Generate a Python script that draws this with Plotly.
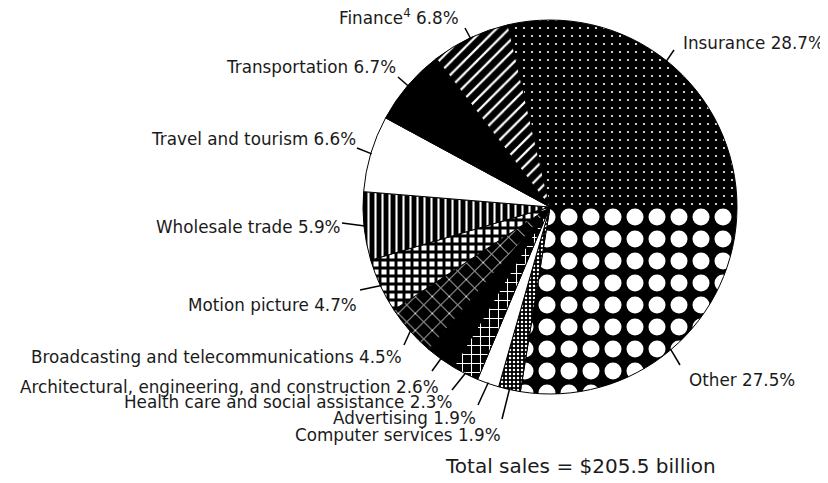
import math
import plotly.graph_objects as go

# ---------------- data ----------------
sectors = ["Insurance", "Other", "Computer services", "Advertising",
           "Health care and social assistance",
           "Architectural, engineering, and construction",
           "Broadcasting and telecommunications", "Motion picture",
           "Wholesale trade", "Travel and tourism", "Transportation", "Finance"]
shares = [28.7, 27.5, 1.9, 1.9, 2.3, 2.6, 4.5, 4.7, 5.9, 6.6, 6.7, 6.8]
footnotes = {"Finance": "4"}
total_text = "Total sales = $205.5 billion"

# ---------------- layout / style ----------------
OFF = 8                      # default body margin of the html page
FW, FH = 820, 467            # figure size so page fits the 828x483 window
CX, CY, R = 550, 207, 187    # pie centre / radius in window pixels
ROTATION = -13               # first slice start angle (deg, clockwise from 12 o'clock)
FONT = "DejaVu Sans"
FS = 16.8
TXT = "#1a1a1a"

# pattern per slice: (shape, fg, bg, size, solidity)
styles = {
    "Insurance": (".", "white", "black", 8, 0.06),
    "Other": (".", "white", "black", 22, 0.47),
    "Computer services": (".", "white", "black", 4, 0.3),
    "Advertising": ("", "black", "white", 8, 0.3),
    "Health care and social assistance": ("+", "white", "black", 9, 0.22),
    "Architectural, engineering, and construction": ("", "white", "black", 8, 0.3),
    "Broadcasting and telecommunications": ("x", "white", "black", 12, 0.14),
    "Motion picture": ("+", "black", "white", 8, 0.6),
    "Wholesale trade": ("|", "white", "black", 7, 0.3),
    "Travel and tourism": ("", "black", "white", 8, 0.3),
    "Transportation": ("", "white", "black", 8, 0.3),
    "Finance": ("/", "white", "black", 9, 0.25),
}

# label placement (window pixels): text x, text y, anchor, leader-line start x, y
placement = {
    "Insurance": (681, 43, "left", 674, 50),
    "Other": (687, 380, "left", 680, 365),
    "Computer services": (503, 435, "right", 502, 419),
    "Advertising": (478, 418, "right", 478, 405),
    "Health care and social assistance": (454, 402, "right", 452, 390),
    "Architectural, engineering, and construction": (441, 387, "right", 432, 371),
    "Broadcasting and telecommunications": (404, 357, "right", 404, 345),
    "Motion picture": (359, 305, "right", 360, 290),
    "Wholesale trade": (343, 227, "right", 342, 223),
    "Travel and tourism": (358, 139, "right", 357, 148),
    "Transportation": (398, 67, "right", 398, 77),
    "Finance": (461, 17, "right", 465, 28),
}


def px(x):
    return (x - OFF) / FW


def py(y):
    return 1 - (y - OFF) / FH


fig = go.Figure()
fig.add_trace(go.Pie(
    labels=sectors,
    values=shares,
    sort=False,
    direction="clockwise",
    rotation=ROTATION,
    textinfo="none",
    hoverinfo="label+percent",
    showlegend=False,
    domain=dict(x=[px(CX - R), px(CX + R)], y=[py(CY + R), py(CY - R)]),
    marker=dict(
        colors=[styles[s][2] for s in sectors],
        line=dict(color="black", width=1),
        pattern=dict(
            shape=[styles[s][0] for s in sectors],
            fgcolor=[styles[s][1] for s in sectors],
            bgcolor=[styles[s][2] for s in sectors],
            size=[styles[s][3] for s in sectors],
            solidity=[styles[s][4] for s in sectors],
            fillmode="replace",
        ),
    ),
))

annotations = []
shapes = []
total = sum(shares)
cum = 0.0
for name, v in zip(sectors, shares):
    mid = math.radians(ROTATION + 360 * (cum + v / 2) / total)
    cum += v
    ex = CX + (R - 1) * math.sin(mid)
    ey = CY - (R - 1) * math.cos(mid)
    tx, ty, anchor, sx, sy = placement[name]
    label = name
    if name in footnotes:
        label += "<sup>" + footnotes[name] + "</sup>"
    label += f" {v}%"
    annotations.append(dict(
        x=px(tx), y=py(ty), xref="paper", yref="paper",
        text=label, showarrow=False, xanchor=anchor, yanchor="middle",
        font=dict(family=FONT, size=FS, color=TXT),
    ))
    shapes.append(dict(
        type="line", xref="paper", yref="paper",
        x0=px(sx), y0=py(sy), x1=px(ex), y1=py(ey),
        line=dict(color="black", width=1.5),
    ))

annotations.append(dict(
    x=px(718), y=py(466), xref="paper", yref="paper",
    text=total_text, showarrow=False, xanchor="right", yanchor="middle",
    font=dict(family=FONT, size=20, color=TXT),
))

fig.update_layout(
    width=FW, height=FH, autosize=False,
    margin=dict(l=0, r=0, t=0, b=0),
    paper_bgcolor="white", plot_bgcolor="white",
    annotations=annotations, shapes=shapes,
)

fig.write_html("out.html")
